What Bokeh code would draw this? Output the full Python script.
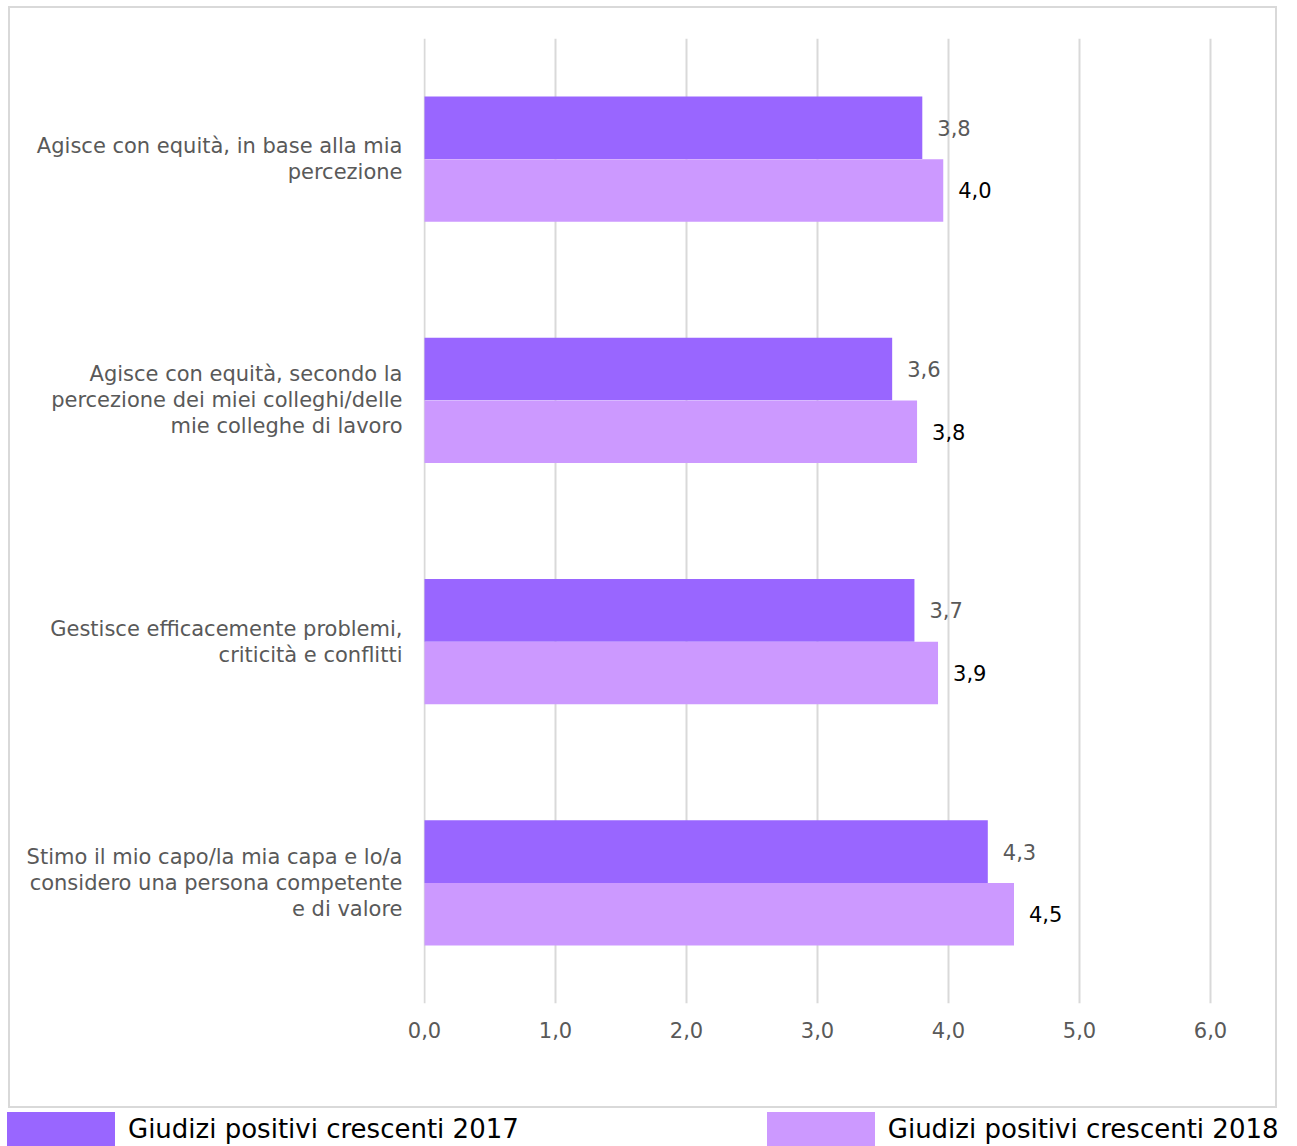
from bokeh.plotting import figure
from bokeh.models import (FactorRange, Range1d, FixedTicker, ColumnDataSource,
                          Legend, LegendItem)
from bokeh.transform import dodge
from bokeh.core.properties import value
from bokeh.embed import file_html
from bokeh.resources import INLINE

categories = [
    "Agisce con equità, in base alla mia\npercezione",
    "Agisce con equità, secondo la\npercezione dei miei colleghi/delle\nmie colleghe di lavoro",
    "Gestisce efficacemente problemi,\ncriticità e conflitti",
    "Stimo il mio capo/la mia capa e lo/a\nconsidero una persona competente\ne di valore",
]
series_2017 = [3.80, 3.57, 3.74, 4.30]
series_2018 = [3.96, 3.76, 3.92, 4.50]
x_ticks = [0, 1, 2, 3, 4, 5, 6]
x_tick_labels = ["0,0", "1,0", "2,0", "3,0", "4,0", "5,0", "6,0"]
legend_labels = ["Giudizi positivi crescenti 2017", "Giudizi positivi crescenti 2018"]

FONT = "DejaVu Sans"
GREY = "#595959"
C17 = "#9966FF"
C18 = "#CC99FF"
BORDER = "#d9d9d9"


def fmt(v):
    return f"{v:.1f}".replace(".", ",")


src = ColumnDataSource(dict(
    cat=categories,
    v17=series_2017,
    v18=series_2018,
    l17=[fmt(v) for v in series_2017],
    l18=[fmt(v) for v in series_2018],
))

PX = 131.0
p = figure(width=1269, height=1102,
           y_range=FactorRange(*categories[::-1]),
           x_range=Range1d(-1 / PX, 6 + 2 / PX),
           output_backend="svg", toolbar_location=None,
           min_border_left=413, min_border_right=67,
           min_border_top=30, min_border_bottom=107)
p.background_fill_color = "white"
p.border_fill_color = "white"
p.outline_line_color = None
p.margin = (6, 0, 0, 8)
p.styles = {"border": f"2px solid {BORDER}"}

r17 = p.hbar(y=dodge("cat", 0.13, range=p.y_range), left=0, right="v17",
             height=0.26, source=src, fill_color=C17, line_color=None)
r18 = p.hbar(y=dodge("cat", -0.13, range=p.y_range), left=0, right="v18",
             height=0.26, source=src, fill_color=C18, line_color=None)

p.text(x="v17", y=dodge("cat", 0.13, range=p.y_range), text="l17", source=src,
       x_offset=15, text_baseline="middle", text_align="left",
       text_font=value(FONT), text_font_size="21px", text_color=GREY)
p.text(x="v18", y=dodge("cat", -0.13, range=p.y_range), text="l18", source=src,
       x_offset=15, text_baseline="middle", text_align="left",
       text_font=value(FONT), text_font_size="21px", text_color="#000000")

p.xaxis.ticker = FixedTicker(ticks=x_ticks)
p.xaxis.major_label_overrides = {t: l for t, l in zip(x_ticks, x_tick_labels)}
for ax in (p.xaxis[0], p.yaxis[0]):
    ax.axis_line_color = None
    ax.major_tick_line_color = None
    ax.minor_tick_line_color = None
    ax.major_tick_out = 0
    ax.major_tick_in = 0
    ax.major_label_text_font = FONT
    ax.major_label_text_font_size = "21px"
    ax.major_label_text_color = GREY
p.xaxis.major_label_standoff = 18
p.yaxis.major_label_standoff = 21
p.yaxis.major_label_text_align = "center"
p.yaxis.major_label_text_line_height = 1.08

p.xgrid.grid_line_color = BORDER
p.xgrid.grid_line_width = 2
p.ygrid.grid_line_color = None

# legend strip below the bordered chart (separate root, no frame alignment)
lf = figure(width=1297, height=38, x_range=Range1d(0, 1), y_range=Range1d(0, 1),
            x_axis_type=None, y_axis_type=None,
            output_backend="svg", toolbar_location=None,
            min_border=0, min_border_left=0, min_border_right=0,
            min_border_top=0, min_border_bottom=0)
lf.outline_line_color = None
lf.background_fill_color = "white"
lf.border_fill_color = "white"
lf.grid.grid_line_color = None
lr17 = lf.hbar(y=0.5, left=0, right="v17", height=0.5, source=src,
               fill_color=C17, line_color=None, visible=False)
lr18 = lf.hbar(y=0.5, left=0, right="v18", height=0.5, source=src,
               fill_color=C18, line_color=None, visible=False)
legend = Legend(items=[LegendItem(label=legend_labels[0], renderers=[lr17]),
                       LegendItem(label=legend_labels[1], renderers=[lr18])],
                location=(-7, -5), orientation="horizontal",
                glyph_width=135, glyph_height=44,
                label_text_font=FONT, label_text_font_size="26px",
                label_text_color="#000000", label_standoff=0,
                spacing=234, padding=0, margin=0,
                inactive_fill_alpha=0,
                border_line_color=None, background_fill_alpha=0)
lf.add_layout(legend)

open("out.html", "w").write(file_html([p, lf], INLINE))
